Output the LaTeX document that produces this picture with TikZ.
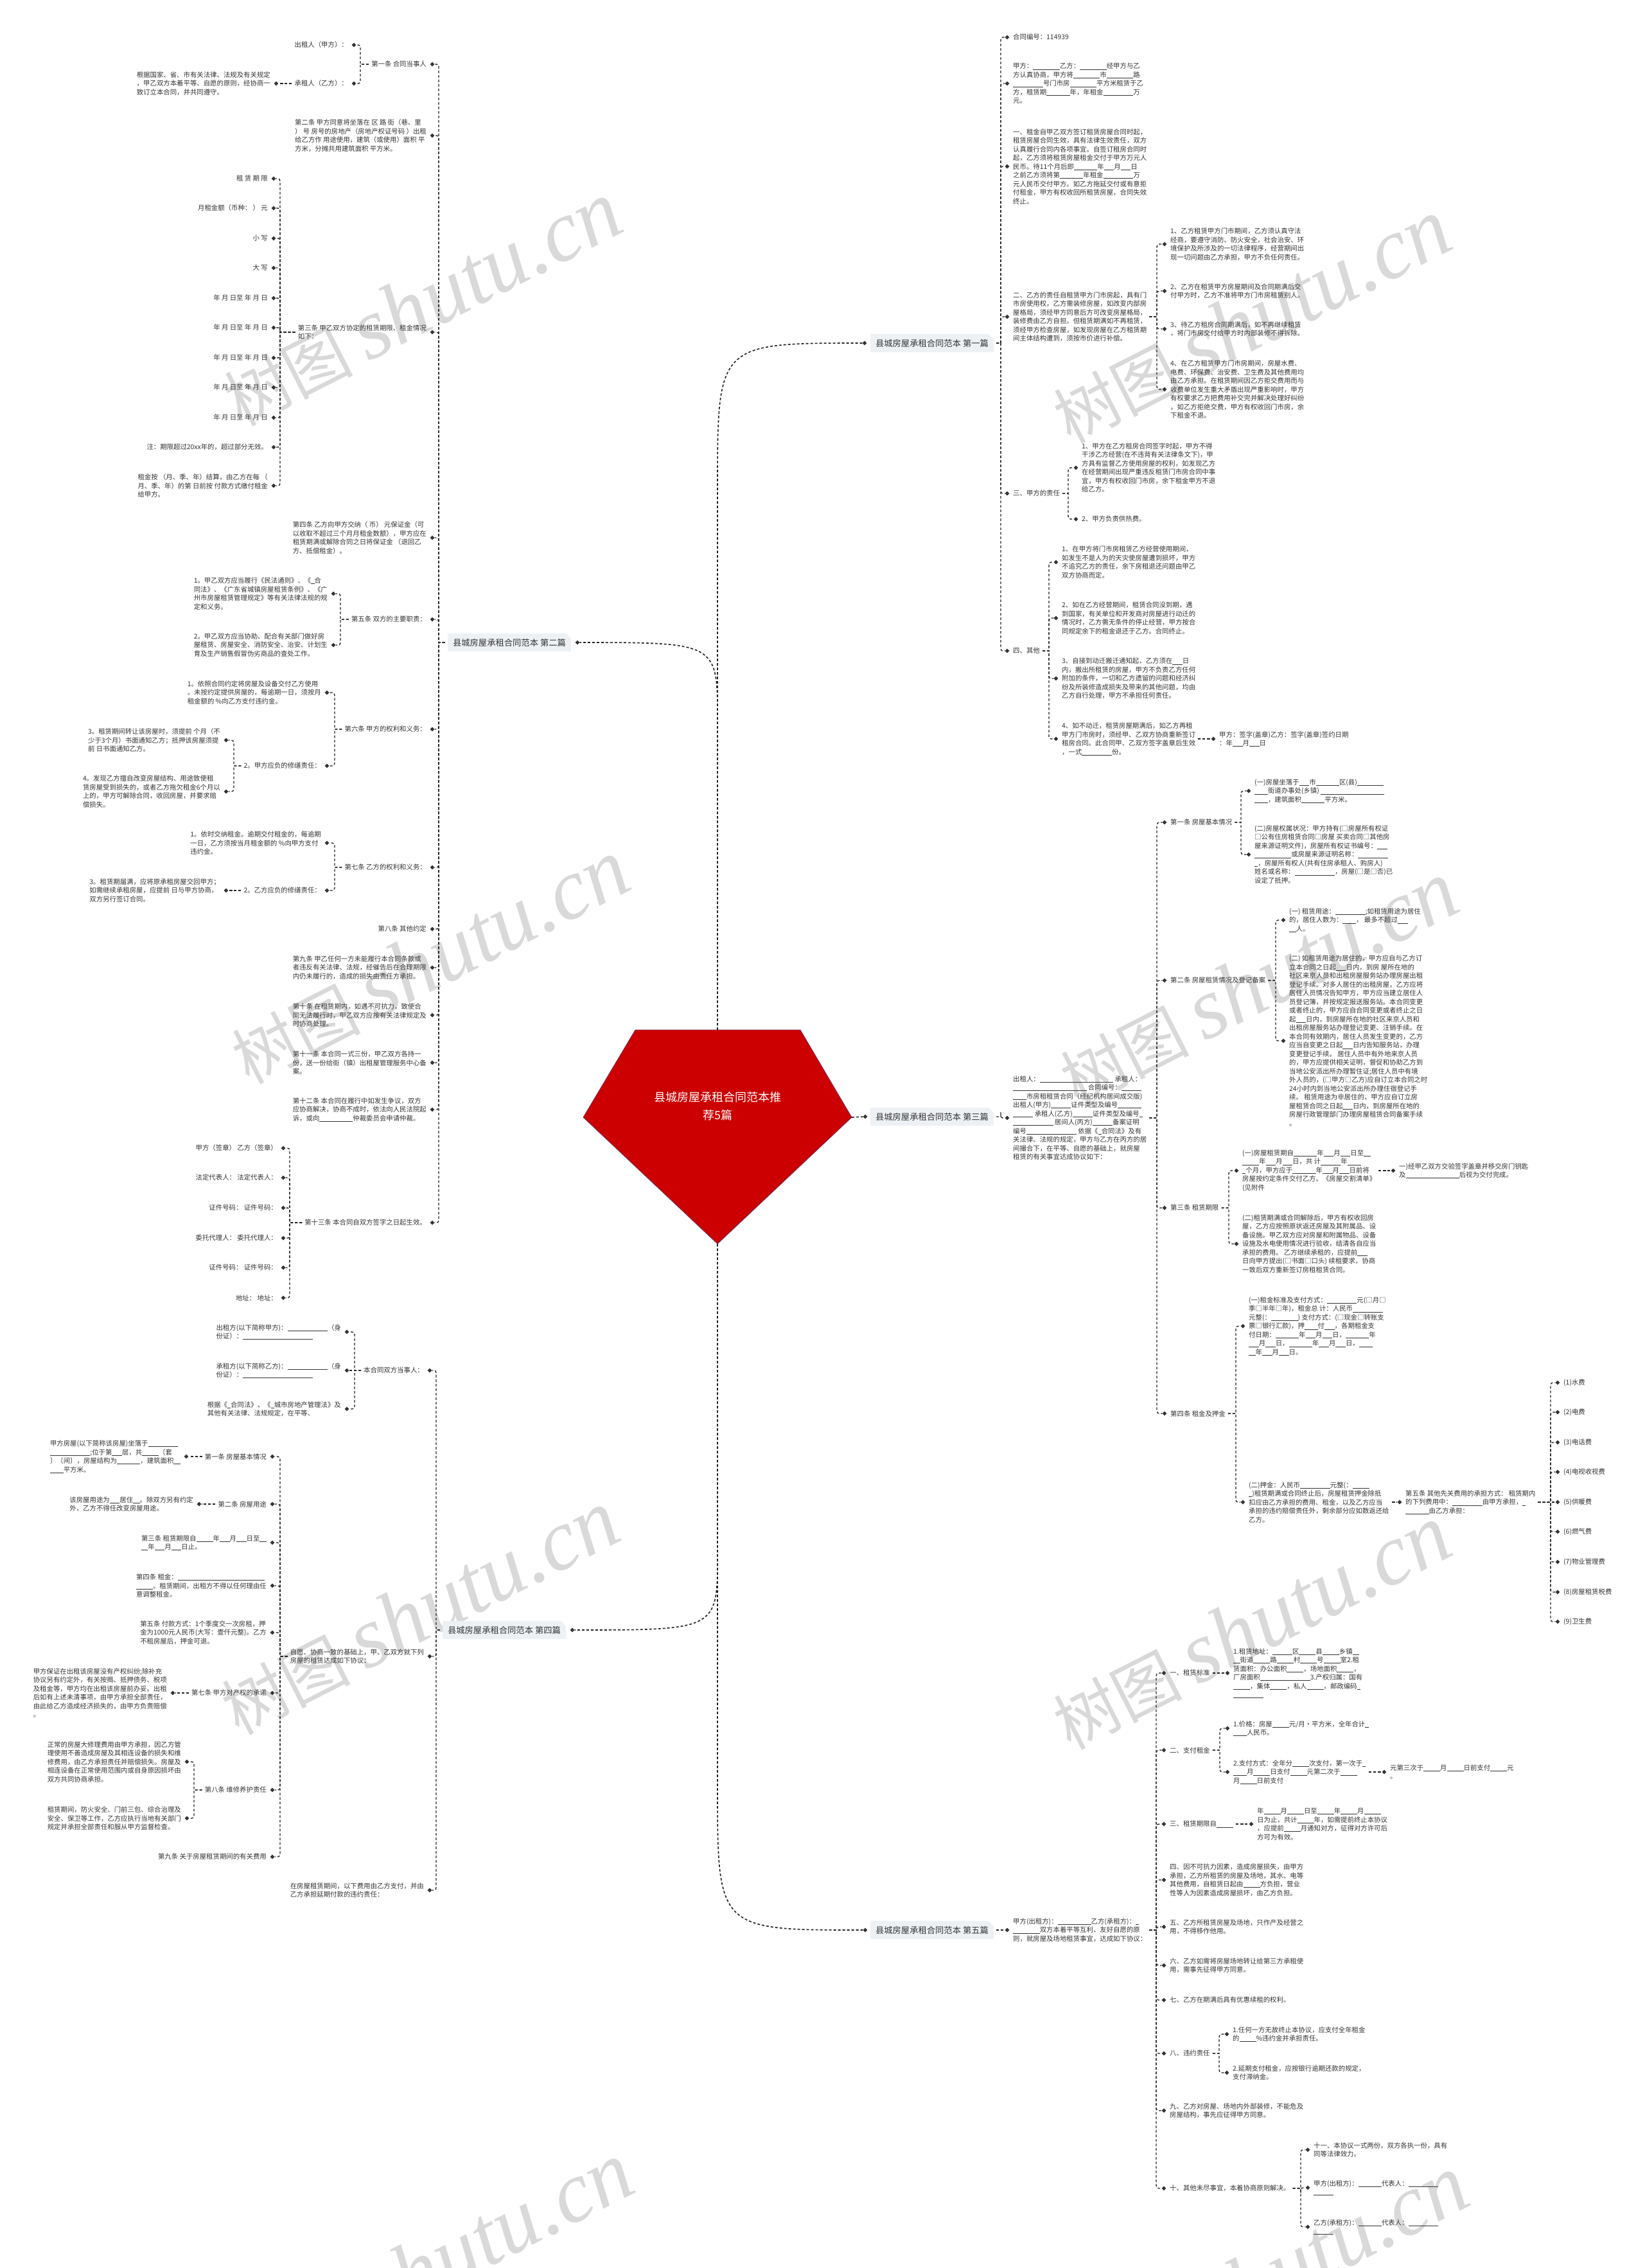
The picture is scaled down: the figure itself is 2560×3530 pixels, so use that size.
\documentclass[tikz,border=0pt]{standalone}
\usepackage{fontspec}
\setmainfont{Noto Sans CJK SC}
\newfontfamily\wmfont{Liberation Serif}
\usetikzlibrary{shapes.geometric,shapes.misc,calc}
\definecolor{txt}{HTML}{333333}
\definecolor{lnc}{HTML}{222222}
\definecolor{tbg}{HTML}{EEF1F4}
\definecolor{rootred}{HTML}{CC0000}
\definecolor{rootedge}{HTML}{6A3060}
\definecolor{wmc}{HTML}{D9D9D9}
\newcommand\blnk[1]{\rule[-1.3pt]{#1\dimexpr0.5em\relax}{0.55pt}}
\newcommand\mLN[4]{\node[mk] (#1m) at (#2,#3) {};\node[tx,anchor=east] (#1) at (#2-9,#3) {#4};}
\newcommand\mRN[4]{\node[mk] (#1m) at (#2,#3) {};\node[tx,anchor=west] (#1) at (#2+9,#3) {#4};}
\newcommand\mCL[3]{\draw[conn,shorten <=4pt] (#1.west) to[br=#3] (#2m);}
\newcommand\mCR[3]{\draw[conn,shorten <=4pt] (#1.east) to[br=#3] (#2m);}
\begin{document}
\begin{tikzpicture}[x=1pt,y=-1pt,
  tx/.style={font=\fontsize{10.4}{13.5}\selectfont, align=left, inner sep=0pt, text=txt},
  mk/.style={diamond, fill=txt, inner sep=0pt, minimum width=7pt, minimum height=7pt},
  conn/.style={draw=lnc, line width=1.3pt, dash pattern=on 4pt off 3pt},
  rconn/.style={draw=lnc, line width=1.6pt, dash pattern=on 4pt off 3pt},
  br/.style={to path={let \p1=(\tikztostart), \p2=(\tikztotarget),
     \n1={ifthenelse(abs((\y1)-(\y2))<1,0,ifthenelse((\y1)>(\y2),1,-1))} in
     -- (#1pt,\y1) -- (#1pt,{\y2+(\n1)*9pt}) .. controls (#1pt,\y2) .. (\tikztotarget)}},
  ttl/.style={chamfered rectangle, chamfered rectangle corners=north east, chamfered rectangle xsep=4pt, chamfered rectangle ysep=4pt, fill=tbg, inner xsep=4pt, inner ysep=4pt, font=\fontsize{13.3}{16}\selectfont, text=txt},
  wm/.style={rotate=27, text=wmc, inner sep=0pt, font=\fontsize{100}{100}\selectfont}
]
\useasboundingbox (0,0) rectangle (2560,3530);
\fill[white] (0,0) rectangle (2560,3530);

% watermarks
\foreach \i/\x/\y in {1/657/473, 2/1948/500, 3/669/1497, 4/1959/1531, 5/653/2510, 6/1948/2533, 7/675/3525, 8/1975/3545}
  \node[wm] (wm\i) at (\x,\y) {树图 {\wmfont\itshape\fontsize{135}{135}\selectfont shutu.cn}};

% root
\coordinate (rtop) at (1117,1603);
\coordinate (rbot) at (1117,1936);
\coordinate (rrt) at (1326,1739);
\coordinate (rlf) at (908,1739);
\fill[rootred,draw=rootedge,line width=0.8pt] (989,1603) -- (1246,1603) -- (rrt) -- (rbot) -- (rlf) -- cycle;
\node[font=\fontsize{18}{28}\selectfont, text=white, align=center, inner sep=0pt] (root) at (1117,1722) {县城房屋承租合同范本推\\荐5篇};

% titles
\node[ttl] (b1) at (1451,534) {县城房屋承租合同范本 第一篇};
\node[mk] (b1m) at (1346,534) {};
\node[ttl] (b2) at (793,1000) {县城房屋承租合同范本 第二篇};
\node[mk] (b2m) at (899,1000) {};
\node[ttl] (b3) at (1451,1738) {县城房屋承租合同范本 第三篇};
\node[mk] (b3m) at (1347,1738) {};
\node[ttl] (b4) at (785,2537) {县城房屋承租合同范本 第四篇};
\node[mk] (b4m) at (891,2537) {};
\node[ttl] (b5) at (1451,3004) {县城房屋承租合同范本 第五篇};
\node[mk] (b5m) at (1347,3004) {};

\draw[rconn] (rtop) -- (1117,760) .. controls (1117,534) .. (b1m);
\draw[rconn] (rtop) -- (1117,1120) .. controls (1117,1000) .. (b2m);
\draw[rconn] (rrt) -- (b3m);
\draw[rconn] (rbot) -- (1117,2420) .. controls (1117,2537) .. (b4m);
\draw[rconn] (rbot) -- (1117,2780) .. controls (1117,3004) .. (b5m);

% ===== 第一篇 =====
\mRN{e1}{1568}{58}{合同编号：114939}
\mRN{e2}{1568}{130}{甲方：\blnk{8}乙方：\blnk{8}经甲方与乙\\方认真协商，甲方将\blnk{8}市\blnk{8}路\\\blnk{9}号门市房\blnk{8}平方米租赁于乙\\方，租赁期\blnk{7}年，年租金\blnk{9}万\\元。}
\mRN{e3}{1568}{259}{一、租金自甲乙双方签订租赁房屋合同时起，\\租赁房屋合同生效，具有法律生效责任，双方\\认真履行合同内各项事宜。自签订租房合同时\\起，乙方须将租赁房屋租金交付于甲方万元人\\民币。待11个月后即\blnk{7}年\blnk{3}月\blnk{3}日\\之前乙方须将第\blnk{7}年租金\blnk{9}万\\元人民币交付甲方。如乙方拖延交付或有意拒\\付租金，甲方有权收回所租赁房屋，合同失效\\终止。}
\mRN{e4}{1568}{493}{二、乙方的责任自租赁甲方门市房起，具有门\\市房使用权，乙方需装修房屋，如改变内部房\\屋格局，须经甲方同意后方可改变房屋格局，\\装修费由乙方自担。但租赁期满如不再租赁，\\须经甲方检查房屋，如发现房屋在乙方租赁期\\间主体结构遭到，须按市价进行补偿。}
\mRN{e4a}{1813}{380}{1、乙方租赁甲方门市期间，乙方须认真守法\\经商，要遵守消防、防火安全，社会治安、环\\境保护及所涉及的一切法律程序，经营期间出\\现一切问题由乙方承担，甲方不负任何责任。}
\mRN{e4b}{1813}{453}{2、乙方在租赁甲方房屋期间及合同期满后交\\付甲方时，乙方不准将甲方门市房租赁别人。}
\mRN{e4c}{1813}{512}{3、待乙方租房合同期满后，如不再继续租赁\\，将门市房交付给甲方时内部装修不得拆除。}
\mRN{e4d}{1813}{606}{4、在乙方租赁甲方门市房期间，房屋水费、\\电费、环保费、治安费、卫生费及其他费用均\\由乙方承担。在租赁期间因乙方拒交费用而与\\收费单位发生重大矛盾出现严重影响时，甲方\\有权要求乙方把费用补交完并解决处理好纠纷\\，如乙方拒绝交费，甲方有权收回门市房，余\\下租金不退。}
\mRN{e5}{1568}{768}{三、甲方的责任}
\mRN{e5a}{1675}{728}{1、甲方在乙方租房合同签字时起，甲方不得\\干涉乙方经营(在不违背有关法律条文下)，甲\\方具有监督乙方使用房屋的权利，如发现乙方\\在经营期间出现严重违反租赁门市房合同中事\\宜，甲方有权收回门市房，余下租金甲方不退\\给乙方。}
\mRN{e5b}{1675}{808}{2、甲方负责供热费。}
\mRN{e6}{1568}{1013}{四、其他}
\mRN{e6a}{1644}{875}{1、在甲方将门市房租赁乙方经营使用期间，\\如发生不是人为的天灾使房屋遭到损坏，甲方\\不追究乙方的责任，余下房租退还问题由甲乙\\双方协商而定。}
\mRN{e6b}{1644}{962}{2、如在乙方经营期间，租赁合同没到期，遇\\到国家，有关单位和开发商对房屋进行动迁的\\情况时，乙方需无条件的停止经营，甲方按合\\同规定余下的租金退还于乙方。合同终止。}
\mRN{e6c}{1644}{1056}{3、自接到动迁搬迁通知起，乙方须在\blnk{3}日\\内，搬出所租赁的房屋，甲方不负责乙方任何\\附加的条件，一切和乙方遗留的问题和经济纠\\纷及所装修造成损失及带来的其他问题，均由\\乙方自行处理，甲方不承担任何责任。}
\mRN{e6d}{1644}{1150}{4、如不动迁，租赁房屋期满后，如乙方再租\\甲方门市房时，须经甲、乙双方协商重新签订\\租房合同。此合同甲、乙双方签字盖章后生效\\，一式\blnk{9}份。}
\mRN{e6d1}{1889}{1150}{甲方：签字(盖章)乙方：签字(盖章)签约日期\\：年\blnk{3}月\blnk{3}日}

\mCR{b1}{e1}{1558}\mCR{b1}{e2}{1558}\mCR{b1}{e3}{1558}\mCR{b1}{e4}{1558}\mCR{b1}{e5}{1558}\mCR{b1}{e6}{1558}
\mCR{e4}{e4a}{1801}\mCR{e4}{e4b}{1801}\mCR{e4}{e4c}{1801}\mCR{e4}{e4d}{1801}
\mCR{e5}{e5a}{1663}\mCR{e5}{e5b}{1663}
\mCR{e6}{e6a}{1633}\mCR{e6}{e6b}{1633}\mCR{e6}{e6c}{1633}\mCR{e6}{e6d}{1633}
\mCR{e6d}{e6d1}{1878}

% ===== 第二篇 =====
\mLN{c1}{673}{100}{第一条 合同当事人}
\mLN{c1a}{551}{70}{出租人（甲方）：}
\mLN{c1b}{551}{130}{承租人（乙方）：}
\mLN{c1b1}{430}{130}{根据国家、省、市有关法律、法规及有关规定\\，甲乙双方本着平等、自愿的原则，经协商一\\致订立本合同，并共同遵守。}
\mLN{c2}{673}{211}{第二条 甲方同意将坐落在 区 路 街（巷、里\\） 号 房号的房地产（房地产权证号码 ）出租\\给乙方作 用途使用，建筑（或使用）面积 平\\方米，分摊共用建筑面积 平方米。}
\mLN{c3}{673}{517}{第三条 甲乙双方协定的租赁期限、租金情况\\如下：}
\mLN{c3a}{426}{278}{租 赁 期 限}
\mLN{c3b}{426}{324}{月租金额（币种：  ）  元}
\mLN{c3c}{426}{371}{小 写}
\mLN{c3d}{426}{417}{大 写}
\mLN{c3e}{426}{464}{年 月 日至 年 月 日}
\mLN{c3f}{426}{510}{年 月 日至 年 月 日}
\mLN{c3g}{426}{557}{年 月 日至 年 月 日}
\mLN{c3h}{426}{603}{年 月 日至 年 月 日}
\mLN{c3i}{426}{650}{年 月 日至 年 月 日}
\mLN{c3j}{426}{696}{注：期限超过20xx年的，超过部分无效。}
\mLN{c3k}{426}{756}{租金按 （月、季、年）结算，由乙方在每 （\\月、季、年）的第 日前按 付款方式缴付租金\\给甲方。}
\mLN{c4}{673}{837}{第四条 乙方向甲方交纳（ 币） 元保证金（可\\以收取不超过三个月月租金数额），甲方应在\\租赁期满或解除合同之日将保证金 （退回乙\\方、抵偿租金）。}
\mLN{c5}{673}{964}{第五条 双方的主要职责：}
\mLN{c5a}{519}{924}{1。甲乙双方应当履行《民法通则》、《\blnk{1}合\\同法》、《广东省城镇房屋租赁条例》、《广\\州市房屋租赁管理规定》等有关法律法规的规\\定和义务。}
\mLN{c5b}{519}{1004}{2。甲乙双方应当协助、配合有关部门做好房\\屋租赁、房屋安全、消防安全、治安、计划生\\育及生产销售假冒伪劣商品的查处工作。}
\mLN{c6}{673}{1135}{第六条 甲方的权利和义务：}
\mLN{c6a}{509}{1078}{1。依照合同约定将房屋及设备交付乙方使用\\。未按约定提供房屋的，每逾期一日，须按月\\租金额的 \%向乙方支付违约金。}
\mLN{c6b}{509}{1192}{2。甲方应负的修缮责任：}
\mLN{c6b1}{352}{1152}{3。租赁期间转让该房屋时，须提前 个月（不\\少于3个月）书面通知乙方；抵押该房屋须提\\前 日书面通知乙方。}
\mLN{c6b2}{352}{1232}{4。发现乙方擅自改变房屋结构、用途致使租\\赁房屋受到损失的，或者乙方拖欠租金6个月以\\上的，甲方可解除合同，收回房屋，并要求赔\\偿损失。}
\mLN{c7}{673}{1350}{第七条 乙方的权利和义务：}
\mLN{c7a}{509}{1312}{1。依时交纳租金。逾期交付租金的，每逾期\\一日，乙方须按当月租金额的 \%向甲方支付\\违约金。}
\mLN{c7b}{509}{1386}{2。乙方应负的修缮责任：}
\mLN{c7b1}{352}{1386}{3。租赁期届满，应将原承租房屋交回甲方；\\如需继续承租房屋，应提前 日与甲方协商，\\双方另行签订合同。}
\mLN{c8}{673}{1446}{第八条 其他约定}
\mLN{c9}{673}{1506}{第九条 甲乙任何一方未能履行本合同条款或\\者违反有关法律、法规，经催告后在合理期限\\内仍未履行的，造成的损失由责任方承担。}
\mLN{c10}{673}{1580}{第十条 在租赁期内，如遇不可抗力，致使合\\同无法履行时，甲乙双方应按有关法律规定及\\时协商处理。}
\mLN{c11}{673}{1654}{第十一条 本合同一式三份，甲乙双方各持一\\份，送一份给街（镇）出租屋管理服务中心备\\案。}
\mLN{c12}{673}{1727}{第十二条 本合同在履行中如发生争议，双方\\应协商解决，协商不成时，依法向人民法院起\\诉，或向\blnk{10}仲裁委员会申请仲裁。}
\mLN{c13}{673}{1903}{第十三条 本合同自双方签字之日起生效。}
\mLN{c13a}{441}{1787}{甲方（签章） 乙方（签章）}
\mLN{c13b}{441}{1833}{法定代表人： 法定代表人：}
\mLN{c13c}{441}{1880}{证件号码： 证件号码：}
\mLN{c13d}{441}{1927}{委托代理人： 委托代理人：}
\mLN{c13e}{441}{1973}{证件号码： 证件号码：}
\mLN{c13f}{441}{2020}{地址： 地址：}

\foreach \k in {c1,c2,c3,c4,c5,c6,c7,c8,c9,c10,c11,c12,c13} {\mCL{b2}{\k}{683}}
\mCL{c1}{c1a}{561}\mCL{c1}{c1b}{561}
\mCL{c1b}{c1b1}{444}
\foreach \k in {c3a,c3b,c3c,c3d,c3e,c3f,c3g,c3h,c3i,c3j,c3k} {\mCL{c3}{\k}{436}}
\mCL{c5}{c5a}{530}\mCL{c5}{c5b}{530}
\mCL{c6}{c6a}{521}\mCL{c6}{c6b}{521}
\mCL{c6b}{c6b1}{364}\mCL{c6b}{c6b2}{364}
\mCL{c7}{c7a}{521}\mCL{c7}{c7b}{521}
\mCL{c7b}{c7b1}{364}
\foreach \k in {c13a,c13b,c13c,c13d,c13e,c13f} {\mCL{c13}{\k}{451}}

% ===== 第三篇 =====
\mRN{f0}{1568}{1740}{出租人：\blnk{22} 承租人：\\\blnk{22} 合同编号：\blnk{6}\\\blnk{4}市房租租赁合同（经纪机构居间成交版)\\ 出租人(甲方)\blnk{6}证件类型及编号\blnk{7}\\\blnk{6} 承租人(乙方)\blnk{6}证件类型及编号\blnk{1}\\\blnk{12} 居间人(丙方)\blnk{6}备案证明\\编号\blnk{15} 依据《\blnk{1}合同法》及有\\关法律、法规的规定，甲方与乙方在丙方的居\\间撮合下，在平等、自愿的基础上，就房屋\\租赁的有关事宜达成协议如下：}
\mRN{f1}{1813}{1280}{第一条 房屋基本情况}
\mRN{f1a}{1944}{1231}{(一)房屋坐落于\blnk{3}市\blnk{7}区(县)\blnk{8}\\\blnk{4}街道办事处(乡镇) \blnk{19}\\\blnk{4}，建筑面积\blnk{7}平方米。}
\mRN{f1b}{1944}{1330}{(二)房屋权属状况：甲方持有(□房屋所有权证\\□公有住房租赁合同□房屋  买卖合同□其他房\\屋来源证明文件)，房屋所有权证书编号：\blnk{3}\\\blnk{11}或房屋来源证明名称：\blnk{9}\\\blnk{1}，房屋所有权人(共有住房承租人、购房人)\\姓名或名称：\blnk{12}，房屋(□是□否)已\\设定了抵押。}
\mRN{f2}{1813}{1526}{第二条 房屋租赁情况及登记备案}
\mRN{f2a}{1998}{1432}{(一) 租赁用途：\blnk{9};如租赁用途为居住\\的，居住人数为：\blnk{4}，  最多不超过\blnk{3}\\\blnk{2}人。}
\mRN{f2b}{1998}{1620}{(二) 如租赁用途为居住的，甲方应自与乙方订\\立本合同之日起\blnk{3}日内，到房  屋所在地的\\社区来京人员和出租房屋服务站办理房屋出租\\登记手续。对多人居住的出租房屋，乙方应将\\居住人员情况告知甲方，甲方应当建立居住人\\员登记簿，并按规定报送服务站。本合同变更\\或者终止的，甲方应自合同变更或者终止之日\\起\blnk{3}日内，到房屋所在地的社区来京人员和\\出租房屋服务站办理登记变更、注销手续。在\\本合同有效期内，居住人员发生变更的，乙方\\应当自变更之日起\blnk{3}日内告知服务站，办理\\变更登记手续。  居住人员中有外地来京人员\\的，甲方应提供相关证明，督促和协助乙方到\\当地公安派出所办理暂住证;居住人员中有境\\外人员的，(□甲方□乙方)应自订立本合同之时\\24小时内到当地公安派出所办理住宿登记手\\续。  租赁用途为非居住的，甲方应自订立房\\屋租赁合同之日起\blnk{3}日内，到房屋所在地的\\房屋行政管理部门办理房屋租赁合同备案手续\\。}
\mRN{f3}{1813}{1880}{第三条 租赁期限}
\mRN{f3a}{1925}{1822}{(一)房屋租赁期自\blnk{7}年\blnk{3}月\blnk{3}日至\blnk{2}\\\blnk{5}年\blnk{3}月\blnk{3}日，共 计\blnk{6}年\blnk{4}\\\blnk{1}个月，甲方应于\blnk{7}年\blnk{3}月\blnk{3}日前将\\房屋按约定条件交付乙方。《房屋交割清单》\\(见附件}
\mRN{f3a1}{2169}{1822}{一)经甲乙双方交验签字盖章并移交房门钥匙\\及\blnk{16}后视为交付完成。}
\mRN{f3b}{1925}{1936}{(二)租赁期满或合同解除后，甲方有权收回房\\屋，乙方应按照原状返还房屋及其附属品、设\\备设施。甲乙双方应对房屋和附属物品、设备\\设施及水电使用情况进行验收，结清各自应当\\承担的费用。  乙方继续承租的，应提前\blnk{3}\\日向甲方提出(□书面□口头) 续租要求，协商\\一致后双方重新签订房租租赁合同。}
\mRN{f4}{1813}{2200}{第四条 租金及押金}
\mRN{f4a}{1935}{2064}{(一)租金标准及支付方式：\blnk{9}元(□月□\\季□半年□年)，租金总  计：人民币\blnk{9}\\元整(：\blnk{8})  支付方式：(□现金□转账支\\票□银行汇款)，押\blnk{4}付\blnk{3}，各期租金支\\付日期：\blnk{7}年\blnk{3}月\blnk{3}日，\blnk{7}年\\\blnk{3}月\blnk{3}日，\blnk{7}年\blnk{3}月\blnk{3}日，\blnk{4}\\\blnk{2}年\blnk{3}月\blnk{3}日。}
\mRN{f4b}{1935}{2338}{(二)押金：人民币\blnk{9}元整(：\blnk{5}\\\blnk{1})租赁期满或合同终止后，房屋租赁押金除抵\\扣应由乙方承担的费用、租金，以及乙方应当\\承担的违约赔偿责任外，剩余部分应如数返还给\\乙方。}
\mRN{f4b1}{2179}{2338}{第五条 其他先关费用的承担方式：  租赁期内\\的下列费用中：\blnk{9}由甲方承担，\blnk{1}\\\blnk{7}由乙方承担：}
\mRN{f5a}{2425}{2152}{(1)水费}
\mRN{f5b}{2425}{2198}{(2)电费}
\mRN{f5c}{2425}{2245}{(3)电话费}
\mRN{f5d}{2425}{2291}{(4)电视收视费}
\mRN{f5e}{2425}{2338}{(5)供暖费}
\mRN{f5f}{2425}{2384}{(6)燃气费}
\mRN{f5g}{2425}{2431}{(7)物业管理费}
\mRN{f5h}{2425}{2478}{(8)房屋租赁税费}
\mRN{f5i}{2425}{2524}{(9)卫生费}

\mCR{b3}{f0}{1558}
\foreach \k in {f1,f2,f3,f4} {\mCR{f0}{\k}{1801}}
\mCR{f1}{f1a}{1932}\mCR{f1}{f1b}{1932}
\mCR{f2}{f2a}{1986}\mCR{f2}{f2b}{1986}
\mCR{f3}{f3a}{1913}\mCR{f3}{f3b}{1913}
\mCR{f3a}{f3a1}{2157}
\mCR{f4}{f4a}{1924}\mCR{f4}{f4b}{1924}
\mCR{f4b}{f4b1}{2167}
\foreach \k in {f5a,f5b,f5c,f5d,f5e,f5f,f5g,f5h,f5i} {\mCR{f4b1}{\k}{2414}}

% ===== 第四篇 =====
\mLN{d1}{669}{2133}{本合同双方当事人：}
\mLN{d1a}{540}{2073}{出租方(以下简称甲方)：\blnk{12}（身\\份证）：\blnk{21}}
\mLN{d1b}{540}{2133}{承租方(以下简称乙方)：\blnk{12}（身\\份证）：\blnk{21}}
\mLN{d1c}{540}{2193}{根据《\blnk{1}合同法》、《\blnk{1}城市房地产管理法》及\\其他有关法律、法规规定，在平等、}
\mLN{d2}{669}{2578}{自愿、协商一致的基础上，甲、乙双方就下列\\房屋的租赁达成如下协议：}
\mLN{d2a}{424}{2267}{第一条 房屋基本情况}
\mLN{d2a1}{290}{2267}{甲方房屋(以下简称该房屋)坐落于\blnk{9}\\\blnk{12};位于第\blnk{3}层，共\blnk{5}〔套\\〕〔间〕，房屋结构为\blnk{7}，建筑面积\blnk{2}\\\blnk{4}平方米。}
\mLN{d2b}{424}{2341}{第二条 房屋用途}
\mLN{d2b1}{310}{2341}{该房屋用途为\blnk{3}居住\blnk{2}。除双方另有约定\\外，乙方不得任改变房屋用途。}
\mLN{d2c}{424}{2401}{第三条 租赁期限自\blnk{5}年\blnk{3}月\blnk{3}日至\blnk{2}\\\blnk{2}年\blnk{3}月\blnk{3}日止。}
\mLN{d2d}{424}{2468}{第四条 租金：\blnk{26}\\\blnk{5}。租赁期间，出租方不得以任何理由任\\意调整租金。}
\mLN{d2e}{424}{2541}{第五条 付款方式：1个季度交一次房租，押\\金为1000元人民币(大写：壹仟元整)。乙方\\不租房屋后，押金可退。}
\mLN{d2f}{424}{2635}{第七条 甲方对产权的承诺}
\mLN{d2f1}{269}{2635}{甲方保证在出租该房屋没有产权纠纷;除补充\\协议另有约定外，有关按揭、抵押债务、税项\\及租金等，甲方均在出租该房屋前办妥。出租\\后如有上述未清事项，由甲方承担全部责任，\\由此给乙方造成经济损失的，由甲方负责赔偿\\。}
\mLN{d2g}{424}{2786}{第八条 维修养护责任}
\mLN{d2g1}{291}{2742}{正常的房屋大修理费用由甲方承担，因乙方管\\理使用不善造成房屋及其相连设备的损失和维\\修费用，由乙方承担责任并赔偿损失。房屋及\\相连设备在正常使用范围内或自身原因损坏由\\双方共同协商承担。}
\mLN{d2g2}{291}{2830}{租赁期间，防火安全、门前三包、综合治理及\\安全、保卫等工作，乙方应执行当地有关部门\\规定并承担全部责任和服从甲方监督检查。}
\mLN{d2h}{424}{2890}{第九条 关于房屋租赁期间的有关费用}
\mLN{d3}{669}{2942}{在房屋租赁期间，以下费用由乙方支付，并由\\乙方承担延期付款的违约责任：}

\mCL{b4}{d1}{679}\mCL{b4}{d2}{679}\mCL{b4}{d3}{679}
\mCL{d1}{d1a}{552}\mCL{d1}{d1b}{552}\mCL{d1}{d1c}{552}
\foreach \k in {d2a,d2b,d2c,d2d,d2e,d2f,d2g,d2h} {\mCL{d2}{\k}{436}}
\mCL{d2a}{d2a1}{300}
\mCL{d2b}{d2b1}{320}
\mCL{d2f}{d2f1}{280}
\mCL{d2g}{d2g1}{302}\mCL{d2g}{d2g2}{302}

% ===== 第五篇 =====
\mRN{g0}{1568}{3004}{甲方(出租方)：\blnk{10}乙方(承租方)：\blnk{1}\\\blnk{8}双方本着平等互利、友好自愿的原\\则，就房屋及场地租赁事宜，达成如下协议：}
\mRN{g1}{1812}{2604}{一、租赁标准}
\mRN{g1a}{1911}{2604}{1.租赁地址：\blnk{6}区\blnk{5}县\blnk{5}乡镇\blnk{2}\\\blnk{2}街道\blnk{5}路\blnk{5}村\blnk{5}号\blnk{5}室2.租\\赁面积：办公面积\blnk{5}，场地面积\blnk{5}，\\厂房面积\blnk{15}3.产权归属：国有\\\blnk{5}，集体\blnk{5}，私人\blnk{5}，邮政编码\blnk{1}\\\blnk{9}}
\mRN{g2}{1812}{2724}{二、支付租金}
\mRN{g2a}{1911}{2690}{1.价格：房屋\blnk{5}元/月·平方米，全年合计\blnk{1}\\\blnk{4}人民币。}
\mRN{g2b}{1911}{2758}{2.支付方式：全年分\blnk{5}次支付，第一次于\blnk{1}\\\blnk{4}月\blnk{5}日支付\blnk{5}元第二次于\blnk{5}\\月\blnk{5}日前支付}
\mRN{g2b1}{2155}{2758}{元第三次于\blnk{5}月\blnk{5}日前支付\blnk{5}元\\。}
\mRN{g3}{1812}{2839}{三、租赁期限自\blnk{5}}
\mRN{g3a}{1948}{2839}{年\blnk{5}月\blnk{5}日至\blnk{5}年\blnk{5}月\blnk{5}\\日为止，共计\blnk{5}年，如需提前终止本协议\\，应提前\blnk{5}月通知对方，征得对方许可后\\方可为有效。}
\mRN{g4}{1812}{2926}{四、因不可抗力因素，造成房屋损失，由甲方\\承担，乙方所租赁的房屋及场地，其水、电等\\其他费用，自租赁日起由\blnk{5}方负担，营业\\性等人为因素造成房屋损坏，由乙方负担。}
\mRN{g5}{1812}{2999}{五、乙方所租赁房屋及场地，只作产及经营之\\用，不得移作他用。}
\mRN{g6}{1812}{3059}{六、乙方如需将房屋场地转让给第三方承租使\\用，需事先征得甲方同意。}
\mRN{g7}{1812}{3113}{七、乙方在期满后具有优惠续租的权利。}
\mRN{g8}{1812}{3196}{八、违约责任}
\mRN{g8a}{1910}{3166}{1.任何一方无故终止本协议，应支付全年租金\\的\blnk{5}\%违约金并承担责任。}
\mRN{g8b}{1910}{3226}{2.延期支付租金，应按银行逾期还款的规定，\\支付滞纳金。}
\mRN{g9}{1812}{3285}{九、乙方对房屋、场地内外部装修，不能危及\\房屋结构，事先应征得甲方同意。}
\mRN{g10}{1812}{3406}{十、其他未尽事宜，本着协商原则解决。}
\mRN{g10a}{2036}{3346}{十一、本协议一式两份，双方各执一份，具有\\同等法律效力。}
\mRN{g10b}{2036}{3405}{甲方(出租方)：\blnk{7}代表人：\blnk{9}\\\blnk{6}}
\mRN{g10c}{2036}{3466}{乙方(承租方)：\blnk{7}代表人：\blnk{9}\\\blnk{6}}

\mCR{b5}{g0}{1558}
\foreach \k in {g1,g2,g3,g4,g5,g6,g7,g8,g9,g10} {\mCR{g0}{\k}{1800}}
\mCR{g1}{g1a}{1898}
\mCR{g2}{g2a}{1899}\mCR{g2}{g2b}{1899}
\mCR{g2b}{g2b1}{2143}
\mCR{g3}{g3a}{1935}
\mCR{g8}{g8a}{1898}\mCR{g8}{g8b}{1898}
\mCR{g10}{g10a}{2025}\mCR{g10}{g10b}{2025}\mCR{g10}{g10c}{2025}
\end{tikzpicture}
\end{document}
